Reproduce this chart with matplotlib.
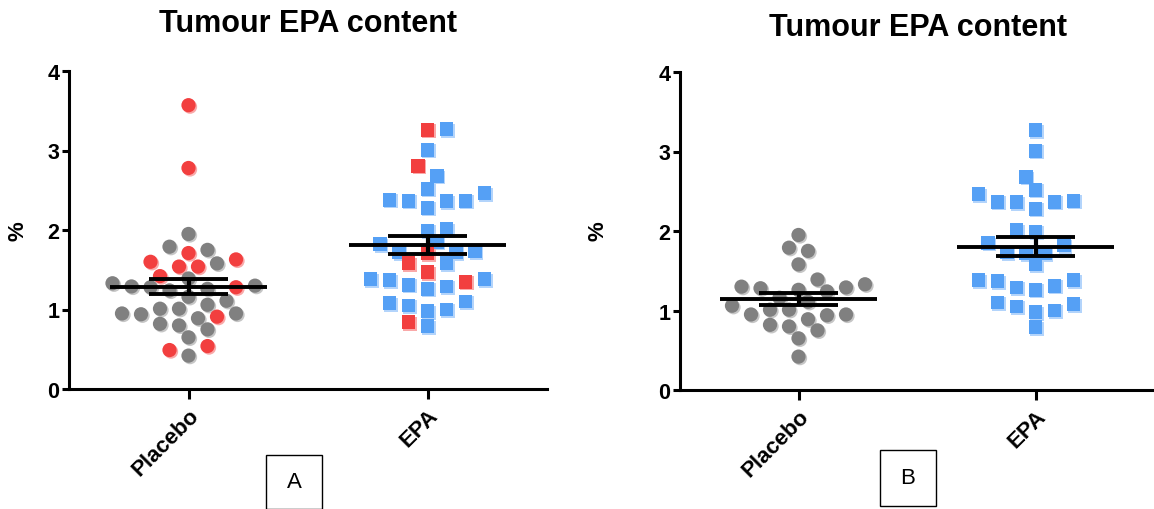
import numpy as np
import matplotlib
matplotlib.use("Agg")
import matplotlib.pyplot as plt
from matplotlib import transforms
from matplotlib.patches import Rectangle
from matplotlib.colors import to_rgb

plt.rcParams['font.family'] = ['Liberation Sans', 'DejaVu Sans']

# tumour EPA (%) per patient; flag = 1 marks the red points
placebo = [3.57, 2.78, 1.95, 1.79, 1.75, 1.71, 1.63, 1.58, 1.54, 1.54, 1.60, 1.42,
           1.39, 1.33, 1.29, 1.28, 1.26, 1.28, 1.30, 1.24, 1.16, 1.06, 1.01, 1.11,
           1.01, 0.95, 0.95, 0.94, 0.89, 0.91, 0.80, 0.75, 0.82, 0.65, 0.54, 0.49, 0.42]
placebo_flag = [1, 1, 0, 0, 0, 1, 1, 0, 1, 1, 1, 1,
                0, 0, 0, 0, 0, 1, 0, 0, 0, 0, 0, 0,
                0, 0, 0, 0, 0, 1, 0, 0, 0, 0, 1, 1, 0]
epa = [3.26, 3.27, 3.01, 2.81, 2.68, 2.46, 2.52, 2.37, 2.36, 2.28, 2.37, 2.38,
       2.01, 1.99, 1.85, 1.82, 1.73, 1.72, 1.71, 1.72, 1.58, 1.58, 1.47, 1.38,
       1.37, 1.26, 1.31, 1.35, 1.38, 1.29, 1.08, 0.98, 1.05, 1.10, 1.00, 0.79, 0.84]
epa_flag = [1, 0, 0, 1, 0, 0, 0, 0, 0, 0, 0, 0,
            0, 0, 0, 0, 0, 0, 1, 0, 1, 0, 1, 0,
            0, 0, 0, 1, 0, 0, 0, 0, 0, 0, 0, 0, 1]

groups = ['Placebo', 'EPA']
title = 'Tumour EPA content'

GRAY = '#808080'
RED = '#F23F3F'
BLUE = '#55A0F5'


def lighter(c, f=0.55):
    r, g, b = to_rgb(c)
    return (r + (1 - r) * f, g + (1 - g) * f, b + (1 - b) * f)


def swarm(vals, px_x, px_y, dmin=14.5, step=9.5):
    vals = np.asarray(vals)
    offs = np.zeros(len(vals))
    placed = []
    cands = [0]
    for j in range(1, 40):
        cands += [j, -j]
    for n, i in enumerate(np.argsort(vals)):
        y = vals[i] * px_y
        sign = 1 if n % 2 == 0 else -1
        for c in cands:
            x = sign * c * step
            if all((x - a) ** 2 + (y - b) ** 2 >= dmin ** 2 for a, b in placed):
                break
        placed.append((x, y))
        offs[i] = x / px_x
    return offs


def draw_group(ax, fig, xc, vals, colors, marker, size):
    vals = np.asarray(vals)
    bbox = ax.get_window_extent()
    px_x = bbox.width / 2.0
    px_y = bbox.height / 4.0
    xs = xc + swarm(vals, px_x, px_y)
    shadow = transforms.offset_copy(ax.transData, fig=fig, x=1.1, y=-1.1, units='points')
    ax.scatter(xs, vals, s=size, marker=marker, c=[lighter(c) for c in colors],
               linewidths=0, transform=shadow, zorder=2, clip_on=False)
    ax.scatter(xs, vals, s=size, marker=marker, c=colors, linewidths=0,
               zorder=3, clip_on=False)
    m = vals.mean()
    sem = vals.std(ddof=1) / np.sqrt(len(vals))
    ax.hlines(m, xc - 0.33, xc + 0.33, color='black', lw=2.8, zorder=5)
    ax.hlines([m - sem, m + sem], xc - 0.165, xc + 0.165, color='black', lw=2.8, zorder=5)
    ax.vlines(xc, m - sem, m + sem, color='black', lw=3.0, zorder=5)


def style(ax):
    ax.set_xlim(-0.5, 1.5)
    ax.set_ylim(0, 4)
    ax.set_yticks([0, 1, 2, 3, 4])
    ax.set_xticks([0, 1])
    ax.set_xticklabels(groups, rotation=45, ha='right', rotation_mode='anchor',
                       fontsize=16, fontweight='bold')
    for lab in ax.get_yticklabels():
        lab.set_fontsize(15.5)
        lab.set_fontweight('bold')
    for s in ['top', 'right']:
        ax.spines[s].set_visible(False)
    for s in ['left', 'bottom']:
        ax.spines[s].set_linewidth(2.2)
    ax.tick_params(axis='y', length=5, width=2.2, pad=2)
    ax.tick_params(axis='x', length=7, width=2.2, pad=4)


W, H = 1154, 510
fig = plt.figure(figsize=(W / 100, H / 100), dpi=100)
axA = fig.add_axes([69 / W, 1 - 390 / H, (547 - 69) / W, (390 - 72) / H])
axB = fig.add_axes([680 / W, 1 - 391 / H, (1154 - 680) / W, (391 - 73) / H])
style(axA)
style(axB)

pf = np.array(placebo_flag)
ef = np.array(epa_flag)
pv = np.array(placebo)
ev = np.array(epa)

# panel A: every patient, red points highlighted
draw_group(axA, fig, 0, pv, [RED if f else GRAY for f in pf], 'o', 105)
draw_group(axA, fig, 1, ev, [RED if f else BLUE for f in ef], 's', 100)

# panel B: red points left out
draw_group(axB, fig, 0, pv[pf == 0], [GRAY] * int((pf == 0).sum()), 'o', 105)
draw_group(axB, fig, 1, ev[ef == 0], [BLUE] * int((ef == 0).sum()), 's', 100)

fig.text(308 / W, 1 - 24 / H, title, ha='center', va='center', fontsize=22, fontweight='bold')
fig.text(918 / W, 1 - 28 / H, title, ha='center', va='center', fontsize=22, fontweight='bold')
fig.text(18 / W, 1 - 231 / H, '%', ha='center', va='center', rotation=90, fontsize=16, fontweight='bold')
fig.text(598 / W, 1 - 231 / H, '%', ha='center', va='center', rotation=90, fontsize=16, fontweight='bold')

for (x0, y0, x1, y1, lab) in [(266, 456, 322, 510, 'A'), (880, 451, 936, 507, 'B')]:
    fig.add_artist(Rectangle((x0 / W, 1 - y1 / H), (x1 - x0) / W, (y1 - y0) / H,
                             transform=fig.transFigure, fill=False, ec='black', lw=1.0))
    fig.text((x0 + x1) / 2 / W, 1 - (y0 + y1) / 2 / H, lab, ha='center', va='center', fontsize=16)

fig.savefig('out.png', dpi=100)
